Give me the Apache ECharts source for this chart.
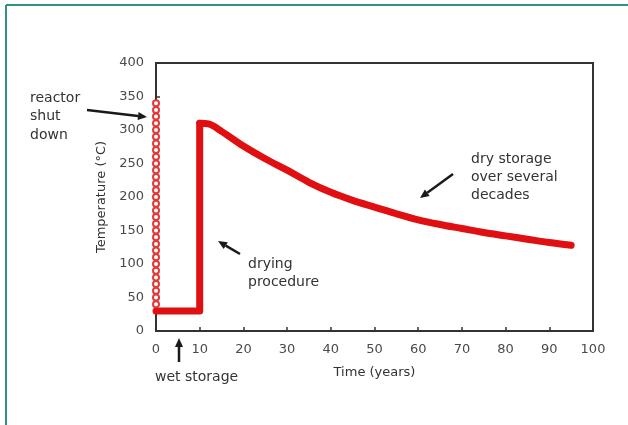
<!DOCTYPE html>
<html>
<head>
<meta charset="utf-8">
<script src="https://cdn.jsdelivr.net/npm/echarts@6/dist/echarts.min.js"></script>
<style>
  html, body { margin: 0; padding: 0; background: #ffffff; }
  #chart { width: 628px; height: 425px; }
</style>
</head>
<body>
<div id="chart"></div>
<script>
// Axis ranges
const xMin = 0, xMax = 100, xStep = 10;
const yMin = 0, yMax = 400, yStep = 50;

// Fuel temperature right after the reactor is shut down (all at t = 0)
const shutdownYears = [0,0,0,0,0,0,0,0,0,0,0,0,0,0,0,0,0,0,0,0,0,0,0,0,0,0,0,0,0,0,0];
const shutdownTemps = [340,330,320,310,300,290,280,270,260,250,240,230,220,210,200,190,180,170,160,150,140,130,120,110,100,90,80,70,60,50,40];

// Wet storage in the pool, then the drying step
const wetYears = [0, 10, 10];
const wetTemps = [30, 30, 310];

// Dry storage decay
const dryYears = [10, 12, 15, 20, 25, 30, 35, 40, 45, 50, 55, 60, 65, 70, 75, 80, 85, 90, 95];
const dryTemps = [310, 309, 298, 276, 257, 240, 222, 207, 195, 185, 175, 166, 159, 153, 147, 142, 137, 132, 128];

const pair = (xs, ys) => xs.map((x, i) => [x, ys[i]]);

const TXT = '#333333';
const FONT = 'DejaVu Sans';
const RED = '#df0f12';

// Arrow with a filled head at (x2, y2)
function arrow(x1, y1, x2, y2) {
  const ang = Math.atan2(y2 - y1, x2 - x1);
  const len = 9, half = 4;
  const bx = x2 - len * Math.cos(ang), by = y2 - len * Math.sin(ang);
  const px = -Math.sin(ang) * half, py = Math.cos(ang) * half;
  return [
    { type: 'line', shape: { x1: x1, y1: y1, x2: bx, y2: by },
      style: { stroke: '#1a1a1a', lineWidth: 2.5 } },
    { type: 'polygon', shape: { points: [[x2, y2], [bx + px, by + py], [bx - px, by - py]] },
      style: { fill: '#1a1a1a' } }
  ];
}

function note(x, y, text, lineHeight) {
  return { type: 'text', left: x, top: y,
    style: { text: text, font: '14px "' + FONT + '"', fill: TXT, lineHeight: lineHeight } };
}

const chart = echarts.init(document.getElementById('chart'), null, { renderer: 'canvas' });

chart.setOption({
  animation: false,
  backgroundColor: '#ffffff',
  grid: { left: 156, right: 35, top: 63, bottom: 94, show: true, borderColor: '#333333', borderWidth: 2 },
  xAxis: {
    type: 'value', min: xMin, max: xMax, interval: xStep,
    name: 'Time (years)', nameLocation: 'middle', nameGap: 35,
    nameTextStyle: { color: TXT, fontFamily: FONT, fontSize: 13 },
    axisLine: { lineStyle: { color: '#333333', width: 2 } },
    axisTick: { inside: true, length: 4, lineStyle: { color: '#333333', width: 1.5 } },
    axisLabel: { color: '#4a4a4a', fontFamily: FONT, fontSize: 13, margin: 12 },
    splitLine: { show: false }
  },
  yAxis: {
    type: 'value', min: yMin, max: yMax, interval: yStep,
    name: 'Temperature (°C)', nameLocation: 'middle', nameGap: 47, nameRotate: 90,
    nameTextStyle: { color: TXT, fontFamily: FONT, fontSize: 13 },
    axisLine: { show: true, lineStyle: { color: '#333333', width: 2 } },
    axisTick: { show: true, inside: true, length: 4, lineStyle: { color: '#333333', width: 1.5 } },
    axisLabel: { color: '#4a4a4a', fontFamily: FONT, fontSize: 13, margin: 12 },
    splitLine: { show: false }
  },
  series: [
    {
      name: 'wet', type: 'line', data: pair(wetYears, wetTemps),
      symbol: 'none', smooth: false,
      lineStyle: { color: RED, width: 7, cap: 'round', join: 'round' },
      z: 2
    },
    {
      name: 'dry', type: 'line', data: pair(dryYears, dryTemps),
      symbol: 'none', smooth: 0.35,
      lineStyle: { color: RED, width: 7, cap: 'round', join: 'round' },
      z: 2
    },
    {
      name: 'shutdown', type: 'line', data: pair(shutdownYears, shutdownTemps),
      symbol: 'emptyCircle', symbolSize: 6, showSymbol: true,
      lineStyle: { color: '#e23a3a', width: 1 },
      itemStyle: { color: '#e23a3a', borderColor: '#e23a3a', borderWidth: 1 },
      z: 3
    }
  ],
  graphic: [
    // page frame
    { type: 'line', shape: { x1: 6, y1: 5, x2: 628, y2: 5 }, style: { stroke: '#2f9384', lineWidth: 2 } },
    { type: 'line', shape: { x1: 6, y1: 5, x2: 6, y2: 425 }, style: { stroke: '#2f9384', lineWidth: 2 } },
    note(30, 89, 'reactor\nshut\ndown', 18.5),
    ...arrow(87, 110, 147, 117),
    note(155, 369, 'wet storage', 16),
    ...arrow(179, 362, 179, 338),
    note(248, 255, 'drying\nprocedure', 18),
    ...arrow(240, 254, 218, 241),
    note(471, 150, 'dry storage\nover several\ndecades', 18),
    ...arrow(453, 174, 420, 198)
  ]
});
</script>
</body>
</html>
